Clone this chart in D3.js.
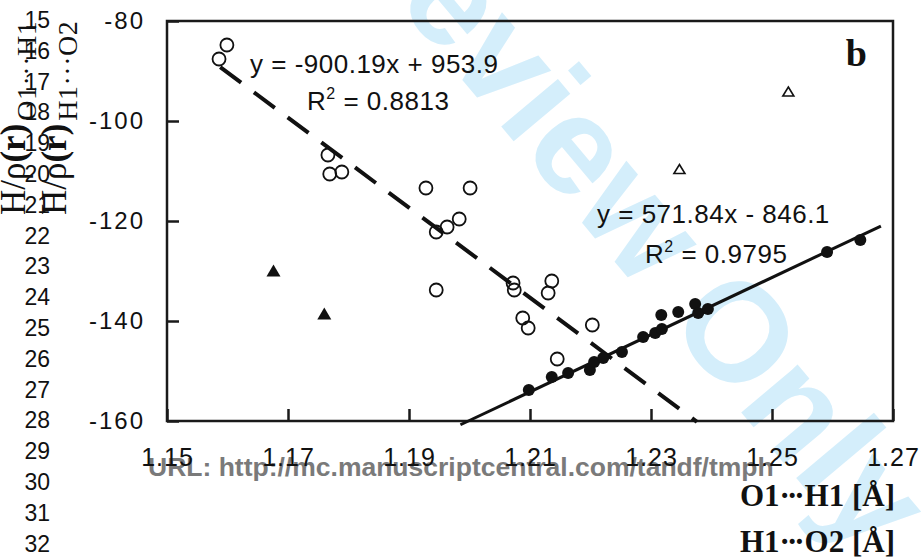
<!DOCTYPE html>
<html>
<head>
<meta charset="utf-8">
<script src="https://cdn.jsdelivr.net/npm/d3@7"></script>
<style>
body { margin: 0; background: #fff; }
svg { display: block; }
</style>
</head>
<body>
<svg id="chart" width="924" height="560"></svg>
<script>
// O1...H1 points (open circles)
const openCircles = [
  [1.1599, -84.8], [1.1586, -87.6], [1.1766, -106.8], [1.1769, -110.6],
  [1.1789, -110.2], [1.1928, -113.4], [1.2001, -113.4], [1.1983, -119.6],
  [1.1963, -121.2], [1.1945, -122.2], [1.1945, -133.8], [1.2072, -132.4],
  [1.2074, -133.8], [1.2136, -132.0], [1.2130, -134.4], [1.2088, -139.4],
  [1.2097, -141.4], [1.2203, -140.8], [1.2145, -147.6]
];
// H1...O2 points (filled circles)
const filledCircles = [
  [1.2098, -153.8], [1.2136, -151.2], [1.2163, -150.4], [1.2199, -149.8],
  [1.2206, -148.2], [1.2221, -147.4], [1.2252, -146.2], [1.2287, -143.2],
  [1.2307, -142.4], [1.2318, -141.6], [1.2317, -138.8], [1.2345, -138.2],
  [1.2373, -136.6], [1.2378, -138.4], [1.2394, -137.6], [1.2591, -126.2],
  [1.2646, -123.8]
];
// outliers
const filledTriangles = [[1.1676, -129.9], [1.1760, -138.5]];
const openTriangles = [[1.2527, -94.1], [1.2347, -109.6]];

// linear fits shown on the chart
const fitDashed = { slope: -900.19, intercept: 953.9, from: 1.1588, to: 1.2376 };
const fitSolid = { slope: 571.84, intercept: -846.1, from: 1.1985, to: 1.268 };

const xTicks = [1.15, 1.17, 1.19, 1.21, 1.23, 1.25, 1.27];
const yTicks = [-80, -100, -120, -140, -160];
const lineNumbers = [15, 16, 17, 18, 19, 20, 21, 22, 23, 24, 25, 26, 27, 28, 29, 30, 31, 32];

const svg = d3.select("#chart");
const plotLeft = 167, plotRight = 893, plotTop = 21, plotBottom = 421;

const x = d3.scaleLinear().domain([1.15, 1.27]).range([plotLeft, plotRight]);
const y = d3.scaleLinear().domain([-160, -80]).range([plotBottom, plotTop]);

// watermark, behind everything
svg.append("text")
  .attr("transform", "translate(865,560) rotate(50)")
  .attr("text-anchor", "end")
  .attr("font-family", "Liberation Sans, Arial, sans-serif")
  .attr("font-weight", "bold")
  .attr("font-size", 140)
  .attr("fill", "#d4eefb")
  .text("For Peer Review Only");

// manuscript url
svg.append("text")
  .attr("x", 148)
  .attr("y", 476)
  .attr("font-family", "Liberation Sans, Arial, sans-serif")
  .attr("font-weight", "bold")
  .attr("font-size", 26.5)
  .attr("fill", "#7a7a7a")
  .text("URL: http://mc.manuscriptcentral.com/tandf/tmph");

// line numbers down the left margin
svg.append("g")
  .selectAll("text")
  .data(lineNumbers)
  .enter()
  .append("text")
  .attr("x", 50)
  .attr("y", (d, i) => 20 + i * 30.8)
  .attr("dy", "0.35em")
  .attr("text-anchor", "end")
  .attr("font-family", "Liberation Sans, Arial, sans-serif")
  .attr("font-size", 23)
  .attr("fill", "#111")
  .text(d => d);

// rotated y titles: H/rho(r) with a subscript, only (r) in bold
function yTitle(px, sub) {
  const t = svg.append("text")
    .attr("transform", `translate(${px},215) rotate(-90)`)
    .attr("font-family", "Liberation Serif, Times New Roman, serif")
    .attr("fill", "#111");
  t.append("tspan").attr("font-size", 35).text("H/\u03c1");
  t.append("tspan").attr("font-size", 35).attr("font-weight", "bold").text("(r)");
  t.append("tspan").attr("font-size", 28).attr("dy", 11).attr("dx", 3)
    .attr("letter-spacing", 0.5).text(sub);
}
yTitle(25, "O1\u00b7\u00b7\u00b7H1");
yTitle(66, "H1\u00b7\u00b7\u00b7O2");

// axes
const xAxis = svg.append("g")
  .attr("transform", `translate(0,${plotBottom})`)
  .call(d3.axisBottom(x).tickValues(xTicks).tickSize(-12).tickSizeOuter(0)
    .tickPadding(27).tickFormat(d3.format(".2f")));
xAxis.select(".domain").remove();
xAxis.selectAll("line").attr("stroke", "#1a1a1a").attr("stroke-width", 2.5);
xAxis.selectAll("text")
  .attr("font-family", "Liberation Sans, Arial, sans-serif")
  .attr("font-size", 25)
  .attr("letter-spacing", 1)
  .attr("fill", "#111");

const yAxis = svg.append("g")
  .attr("transform", `translate(${plotLeft},0)`)
  .call(d3.axisLeft(y).tickValues(yTicks).tickSize(-12).tickSizeOuter(0)
    .tickPadding(22).tickFormat(d => String(d)));
yAxis.select(".domain").remove();
yAxis.selectAll("line").attr("stroke", "#1a1a1a").attr("stroke-width", 2.5);
yAxis.selectAll("text")
  .attr("font-family", "Liberation Sans, Arial, sans-serif")
  .attr("font-size", 24)
  .attr("letter-spacing", 2)
  .attr("fill", "#111");

// plot frame
svg.append("rect")
  .attr("x", plotLeft).attr("y", plotTop)
  .attr("width", plotRight - plotLeft).attr("height", plotBottom - plotTop)
  .attr("fill", "none")
  .attr("stroke", "#1a1a1a")
  .attr("stroke-width", 2.5);

// fit lines
function fitLine(fit) {
  return d3.line()([
    [x(fit.from), y(fit.slope * fit.from + fit.intercept)],
    [x(fit.to), y(fit.slope * fit.to + fit.intercept)]
  ]);
}
svg.append("path")
  .attr("d", fitLine(fitDashed))
  .attr("stroke", "#111")
  .attr("stroke-width", 4)
  .attr("stroke-dasharray", "26,16")
  .attr("fill", "none");
svg.append("path")
  .attr("d", fitLine(fitSolid))
  .attr("stroke", "#111")
  .attr("stroke-width", 3)
  .attr("fill", "none");

// points
svg.append("g")
  .selectAll("circle")
  .data(openCircles)
  .enter()
  .append("circle")
  .attr("cx", d => x(d[0]))
  .attr("cy", d => y(d[1]))
  .attr("r", 6.5)
  .attr("fill", "none")
  .attr("stroke", "#111")
  .attr("stroke-width", 1.8);

svg.append("g")
  .selectAll("circle")
  .data(filledCircles)
  .enter()
  .append("circle")
  .attr("cx", d => x(d[0]))
  .attr("cy", d => y(d[1]))
  .attr("r", 6)
  .attr("fill", "#111");

function triangle(cx, cy, w, h) {
  return `M${cx},${cy - h / 2}L${cx + w / 2},${cy + h / 2}L${cx - w / 2},${cy + h / 2}Z`;
}
svg.append("g")
  .selectAll("path")
  .data(filledTriangles)
  .enter()
  .append("path")
  .attr("d", d => triangle(x(d[0]), y(d[1]), 14, 12))
  .attr("fill", "#111");

svg.append("g")
  .selectAll("path")
  .data(openTriangles)
  .enter()
  .append("path")
  .attr("d", d => triangle(x(d[0]), y(d[1]), 11, 9))
  .attr("fill", "none")
  .attr("stroke", "#111")
  .attr("stroke-width", 1.6);

// regression labels
function equation(px, py, text) {
  svg.append("text")
    .attr("x", px).attr("y", py)
    .attr("font-family", "Liberation Sans, Arial, sans-serif")
    .attr("font-size", 26)
    .attr("letter-spacing", 0.5)
    .attr("fill", "#111")
    .text(text);
}
function rSquared(px, py, value) {
  const t = svg.append("text")
    .attr("x", px).attr("y", py)
    .attr("font-family", "Liberation Sans, Arial, sans-serif")
    .attr("font-size", 26)
    .attr("letter-spacing", 0.5)
    .attr("fill", "#111");
  t.append("tspan").text("R");
  t.append("tspan").attr("font-size", 16).attr("dy", -11).text("2");
  t.append("tspan").attr("dy", 11).text(" = " + value);
}
equation(250, 73, "y = -900.19x + 953.9");
rSquared(307, 110, "0.8813");
equation(597, 223, "y = 571.84x - 846.1");
rSquared(645, 263, "0.9795");

// panel letter
svg.append("text")
  .attr("x", 867).attr("y", 66)
  .attr("text-anchor", "end")
  .attr("font-family", "Liberation Serif, Times New Roman, serif")
  .attr("font-weight", "bold")
  .attr("font-size", 38)
  .attr("fill", "#111")
  .text("b");

// x titles
[["O1", "H1 [\u00c5]", 506], ["H1", "O2 [\u00c5]", 552]].forEach(([a, b, py]) => {
  const t = svg.append("text")
    .attr("x", 895).attr("y", py)
    .attr("text-anchor", "end")
    .attr("font-family", "Liberation Serif, Times New Roman, serif")
    .attr("font-weight", "bold")
    .attr("font-size", 31)
    .attr("fill", "#111");
  t.append("tspan").text(a);
  t.append("tspan").attr("letter-spacing", -3).text("\u00b7\u00b7\u00b7");
  t.append("tspan").attr("dx", 3).text(b);
});
</script>
</body>
</html>
